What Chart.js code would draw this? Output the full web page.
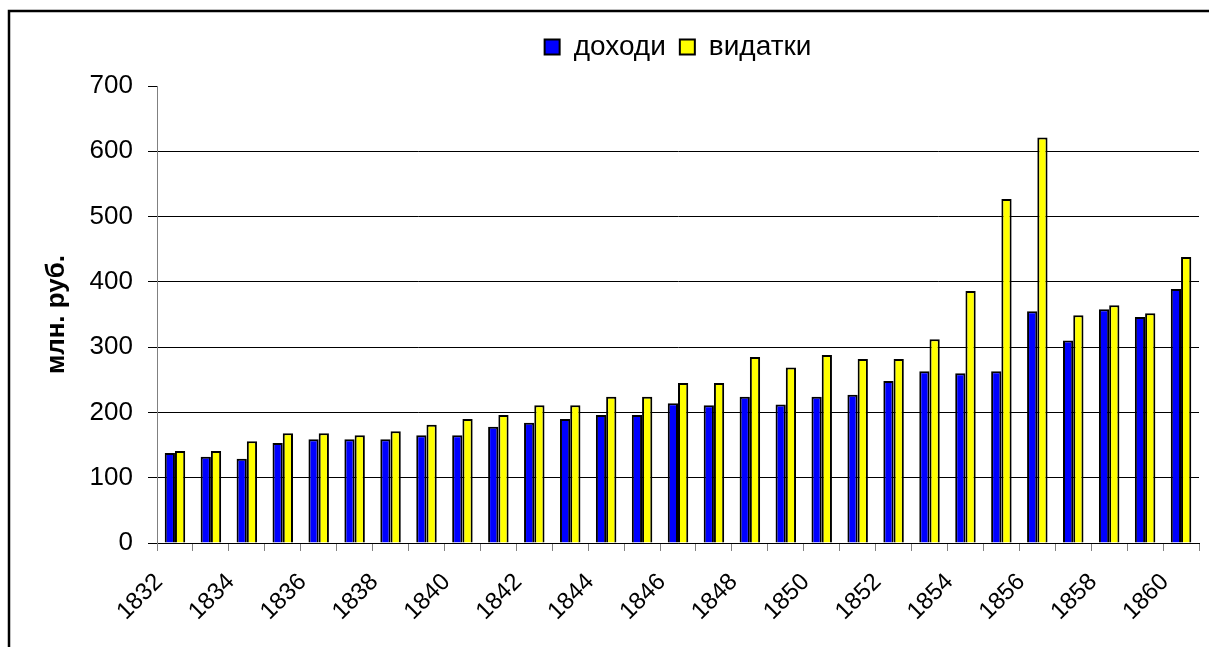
<!DOCTYPE html>
<html>
<head>
<meta charset="utf-8">
<script src="https://cdn.jsdelivr.net/npm/chart.js@4"></script>
<style>
  html, body { margin: 0; padding: 0; background: #fff; }
  #wrap { width: 1209px; height: 647px; position: relative; }
</style>
</head>
<body>
<div id="wrap"><canvas id="budgetChart"></canvas></div>
<script>
// роки
const years = [1832, 1833, 1834, 1835, 1836, 1837, 1838, 1839, 1840, 1841,
    1842, 1843, 1844, 1845, 1846, 1847, 1848, 1849, 1850, 1851,
    1852, 1853, 1854, 1855, 1856, 1857, 1858, 1859, 1860];

// млн. руб.
const income = [138, 132, 129, 153, 159, 159, 159, 165, 165, 178,
    184, 190, 196, 196, 214, 211, 224, 212, 224, 227,
    248, 263, 260, 263, 355, 310, 358, 346, 389];

const spending = [141, 141, 156, 168, 168, 165, 171, 181, 190, 196,
    211, 211, 224, 224, 245, 245, 285, 269, 288, 282,
    282, 312, 386, 527, 621, 349, 364, 352, 438];

const yTicks = [0, 100, 200, 300, 400, 500, 600, 700];

const fontFamily = 'Arial, "Liberation Sans", sans-serif';

// white background + frame (top and left edge visible)
const framePlugin = {
    id: 'frame',
    beforeDraw(chart) {
        const ctx = chart.ctx;
        ctx.save();
        ctx.fillStyle = '#fff';
        ctx.fillRect(0, 0, chart.width, chart.height);
        ctx.strokeStyle = '#000';
        ctx.lineWidth = 2.5;
        ctx.beginPath();
        ctx.moveTo(9, chart.height);
        ctx.lineTo(9, 11);
        ctx.lineTo(chart.width, 11);
        ctx.stroke();
        ctx.restore();
    }
};

// make legend block a bit taller so the plot starts lower
const legendSpace = {
    id: 'legendSpace',
    beforeLayout(chart) {
        const lg = chart.legend;
        if (lg && !lg._extra) {
            const origFit = lg.fit.bind(lg);
            lg.fit = function () {
                origFit();
                this.height += 15;
            };
            lg._extra = true;
        }
    }
};

const chartData = {
    labels: years.map(String),
    datasets: [
        {
            label: 'доходи',
            data: income,
            backgroundColor: '#0000ff',
            borderColor: '#000',
            borderWidth: 2
        },
        {
            label: 'видатки',
            data: spending,
            backgroundColor: '#ffff00',
            borderColor: '#000',
            borderWidth: 2
        }
    ]
};

const chartConfig = {
    type: 'bar',
    data: chartData,
    plugins: [framePlugin, legendSpace],
    options: {
        responsive: true,
        maintainAspectRatio: false,
        animation: false,
        layout: {
            padding: { left: 0, right: 10, top: 19, bottom: 0 }
        },
        datasets: {
            bar: {
                categoryPercentage: 0.57,
                barPercentage: 1.0
            }
        },
        plugins: {
            legend: {
                position: 'top',
                fullSize: false,
                labels: {
                    color: '#000',
                    boxWidth: 15,
                    boxHeight: 15,
                    padding: 14,
                    font: { family: fontFamily, size: 28 }
                }
            },
            tooltip: { enabled: false }
        },
        scales: {
            x: {
                grid: {
                    offset: true,
                    drawOnChartArea: false,
                    drawTicks: true,
                    tickLength: 8,
                    tickColor: '#808080'
                },
                border: { color: '#000', width: 1 },
                ticks: {
                    autoSkip: false,
                    maxRotation: 45,
                    minRotation: 45,
                    padding: 17,
                    labelOffset: -16,
                    color: '#000',
                    font: { family: fontFamily, size: 24 },
                    callback: function (value, index) {
                        return index % 2 === 0 ? this.getLabelForValue(value) : '';
                    }
                },
                afterFit(scale) {
                    scale.height = 104;
                    scale.paddingLeft = 0;
                    scale.paddingRight = 0;
                }
            },
            y: {
                min: 0,
                max: 700,
                afterBuildTicks(scale) {
                    scale.ticks = yTicks.map(v => ({ value: v }));
                },
                grid: {
                    color: ctx => (ctx.tick && ctx.tick.value === 700) ? 'rgba(0,0,0,0)' : '#000',
                    tickColor: '#000',
                    tickLength: 9,
                    lineWidth: 1
                },
                border: { color: '#808080', width: 1 },
                ticks: {
                    padding: 15,
                    color: '#000',
                    font: { family: fontFamily, size: 26 }
                },
                title: {
                    display: true,
                    text: 'млн. руб.',
                    color: '#000',
                    padding: { top: 41, bottom: 0 },
                    font: { family: fontFamily, size: 26, weight: 'bold' }
                },
                afterFit(scale) {
                    scale.width = 157;
                }
            }
        }
    }
};

const budgetChart = new Chart(
    document.getElementById('budgetChart'),
    chartConfig
);
</script>
</body>
</html>
